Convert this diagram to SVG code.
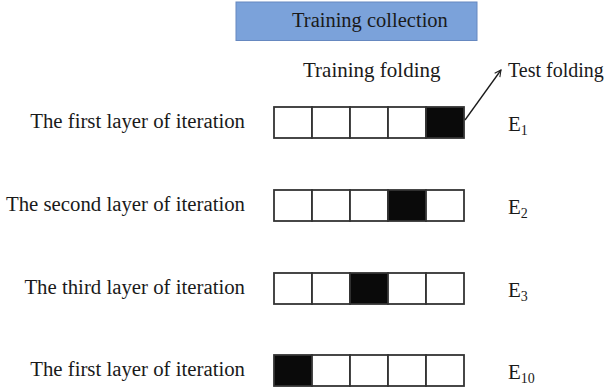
<svg xmlns="http://www.w3.org/2000/svg" width="608" height="392" viewBox="0 0 608 392">
<defs>
<style>
text{font-family:"Liberation Serif","Times New Roman",serif;font-size:20.8px;fill:#1a1a1a}
.lbl{text-anchor:end}
.c{fill:#ffffff;stroke:#333333;stroke-width:1.8}
.k{fill:#0a0a0a;stroke:#333333;stroke-width:1.8}
.e{font-size:21px}
.sub{font-size:14px}
</style>
<marker id="ah" viewBox="0 0 10 10" refX="9" refY="5" markerWidth="8" markerHeight="8" orient="auto" markerUnits="userSpaceOnUse">
<path d="M1,1 L9,5 L1,9" fill="none" stroke="#1a1a1a" stroke-width="1.3"/>
</marker>
</defs>
<rect width="608" height="392" fill="#ffffff"/>
<g id="title">
<rect x="236" y="2" width="241" height="38.5" fill="#7ba2da" stroke="#6688c0" stroke-width="1"/>
<text x="292" y="27" style="font-size:20.5px">Training collection</text>
</g>
<g id="headers">
<text x="303" y="77" style="font-size:21px">Training folding</text>
<text x="508" y="77" style="font-size:20px">Test folding</text>
</g>
<g id="row1">
<text class="lbl" x="245" y="128">The first layer of iteration</text>
<rect class="c" x="274" y="107" width="38" height="31"/>
<rect class="c" x="312" y="107" width="38" height="31"/>
<rect class="c" x="350" y="107" width="38" height="31"/>
<rect class="c" x="388" y="107" width="38" height="31"/>
<rect class="k" x="426" y="107" width="38" height="31"/>
<text class="e" x="508" y="131">E<tspan class="sub" dy="4">1</tspan></text>
</g>
<g id="row2">
<text class="lbl" x="245" y="211">The second layer of iteration</text>
<rect class="c" x="274" y="190" width="38" height="31"/>
<rect class="c" x="312" y="190" width="38" height="31"/>
<rect class="c" x="350" y="190" width="38" height="31"/>
<rect class="k" x="388" y="190" width="38" height="31"/>
<rect class="c" x="426" y="190" width="38" height="31"/>
<text class="e" x="508" y="214">E<tspan class="sub" dy="4">2</tspan></text>
</g>
<g id="row3">
<text class="lbl" x="245" y="294">The third layer of iteration</text>
<rect class="c" x="274" y="273" width="38" height="31"/>
<rect class="c" x="312" y="273" width="38" height="31"/>
<rect class="k" x="350" y="273" width="38" height="31"/>
<rect class="c" x="388" y="273" width="38" height="31"/>
<rect class="c" x="426" y="273" width="38" height="31"/>
<text class="e" x="508" y="297">E<tspan class="sub" dy="4">3</tspan></text>
</g>
<g id="row4">
<text class="lbl" x="245" y="376">The first layer of iteration</text>
<rect class="k" x="274" y="355" width="38" height="31"/>
<rect class="c" x="312" y="355" width="38" height="31"/>
<rect class="c" x="350" y="355" width="38" height="31"/>
<rect class="c" x="388" y="355" width="38" height="31"/>
<rect class="c" x="426" y="355" width="38" height="31"/>
<text class="e" x="508" y="379">E<tspan class="sub" dy="4">10</tspan></text>
</g>
<g id="connectors">
<line x1="465" y1="120" x2="501" y2="70" stroke="#1a1a1a" stroke-width="1.3" marker-end="url(#ah)"/>
</g>
</svg>
